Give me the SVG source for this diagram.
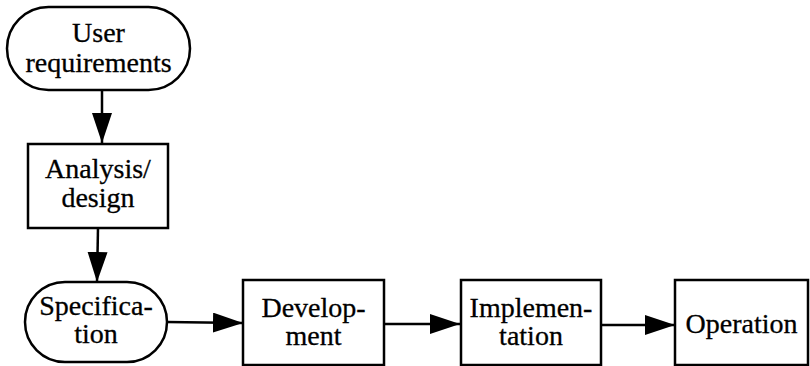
<svg xmlns="http://www.w3.org/2000/svg" width="810" height="366" viewBox="0 0 810 366">
<style>
.shape{fill:#fff;stroke:#000;stroke-width:2.5}
.lbl{font-family:"Liberation Serif","Times New Roman",serif;font-size:28px;fill:#000;stroke:#000;stroke-width:0.3;text-anchor:middle}
.conn{stroke:#000;stroke-width:2.5;fill:none}
</style>
<defs>
<marker id="ah" markerUnits="userSpaceOnUse" markerWidth="32" markerHeight="22" refX="30" refY="10" orient="auto" viewBox="0 0 32 22">
<path d="M0,0 L30,10 L0,20 Z" fill="#000"/>
</marker>
</defs>
<g id="connectors">
<line class="conn" x1="102" y1="90" x2="102" y2="143" marker-end="url(#ah)"/>
<line class="conn" x1="98" y1="228" x2="97" y2="282" marker-end="url(#ah)"/>
<line class="conn" x1="167" y1="322" x2="243" y2="323" marker-end="url(#ah)"/>
<line class="conn" x1="384" y1="324" x2="460" y2="324" marker-end="url(#ah)"/>
<line class="conn" x1="601" y1="325" x2="675" y2="325" marker-end="url(#ah)"/>
</g>
<g id="user-requirements">
<rect class="shape" x="7" y="7" width="183" height="83" rx="41.5" ry="41.5"/>
<text class="lbl" x="98.5" y="42">User</text>
<text class="lbl" x="98.5" y="72">requirements</text>
</g>
<g id="analysis-design">
<rect class="shape" x="28" y="144" width="140" height="84"/>
<text class="lbl" x="98" y="178">Analysis/</text>
<text class="lbl" x="98" y="207">design</text>
</g>
<g id="specification">
<rect class="shape" x="25" y="282" width="142" height="80" rx="40" ry="40"/>
<text class="lbl" x="96" y="315">Specifica-</text>
<text class="lbl" x="96" y="343">tion</text>
</g>
<g id="development">
<rect class="shape" x="243" y="280" width="141" height="85"/>
<text class="lbl" x="313.5" y="317">Develop-</text>
<text class="lbl" x="313.5" y="345">ment</text>
</g>
<g id="implementation">
<rect class="shape" x="461" y="280" width="140" height="85"/>
<text class="lbl" x="531" y="317">Implemen-</text>
<text class="lbl" x="531" y="345">tation</text>
</g>
<g id="operation">
<rect class="shape" x="675" y="280" width="133" height="85"/>
<text class="lbl" x="741.5" y="333">Operation</text>
</g>
</svg>
